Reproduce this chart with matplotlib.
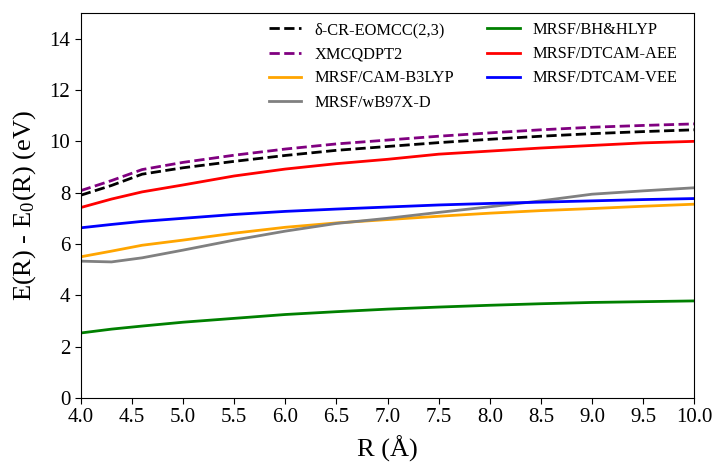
import matplotlib
matplotlib.use("Agg")
import matplotlib.pyplot as plt

R = [4.0, 4.3, 4.6, 5.0, 5.5, 6.0, 6.5, 7.0, 7.5, 8.0, 8.5, 9.0, 9.5, 10.0]
cr_eomcc = [7.9, 8.28, 8.72, 8.97, 9.22, 9.45, 9.65, 9.8, 9.95, 10.08, 10.2, 10.3, 10.38, 10.45]
xmcqdpt2 = [8.08, 8.47, 8.9, 9.18, 9.46, 9.7, 9.9, 10.05, 10.2, 10.33, 10.45, 10.55, 10.62, 10.68]
cam_b3lyp = [5.5, 5.72, 5.95, 6.15, 6.42, 6.65, 6.82, 6.95, 7.08, 7.2, 7.3, 7.38, 7.47, 7.55]
wb97xd = [5.33, 5.3, 5.46, 5.76, 6.15, 6.5, 6.8, 7.0, 7.23, 7.45, 7.68, 7.94, 8.07, 8.19]
bhhlyp = [2.53, 2.68, 2.8, 2.95, 3.1, 3.25, 3.36, 3.46, 3.54, 3.61, 3.67, 3.72, 3.75, 3.78]
dtcam_aee = [7.42, 7.75, 8.03, 8.3, 8.65, 8.92, 9.13, 9.3, 9.5, 9.62, 9.74, 9.84, 9.94, 10.0]
dtcam_vee = [6.63, 6.76, 6.88, 7.0, 7.15, 7.27, 7.36, 7.44, 7.52, 7.58, 7.63, 7.68, 7.73, 7.77]

xticks = [4.0, 4.5, 5.0, 5.5, 6.0, 6.5, 7.0, 7.5, 8.0, 8.5, 9.0, 9.5, 10.0]
yticks = [0, 2, 4, 6, 8, 10, 12, 14]

plt.rcParams['font.family'] = ['Liberation Serif', 'DejaVu Serif']
plt.rcParams['mathtext.fontset'] = 'stix'

fig = plt.figure(figsize=(7.15, 4.67), dpi=100)
ax = fig.add_axes([0.113, 0.148, 0.858, 0.824])

lw = 2
ax.plot(R, cr_eomcc, '--', color='black', lw=lw, label='δ-CR-EOMCC(2,3)')
ax.plot(R, xmcqdpt2, '--', color='purple', lw=lw, label='XMCQDPT2')
ax.plot(R, cam_b3lyp, '-', color='orange', lw=lw, label='MRSF/CAM-B3LYP')
ax.plot(R, wb97xd, '-', color='gray', lw=lw, label='MRSF/wB97X-D')
ax.plot(R, bhhlyp, '-', color='green', lw=lw, label='MRSF/BH&HLYP')
ax.plot(R, dtcam_aee, '-', color='red', lw=lw, label='MRSF/DTCAM-AEE')
ax.plot(R, dtcam_vee, '-', color='blue', lw=lw, label='MRSF/DTCAM-VEE')

ax.set_xlim(4.0, 10.0)
ax.set_ylim(0, 15)
ax.set_xticks(xticks)
ax.set_xticklabels([f'{t:.1f}' for t in xticks])
ax.set_yticks(yticks)
ax.tick_params(labelsize=15, direction='out', length=4)
ax.set_xlabel('R (Å)', fontsize=19, labelpad=6)
ax.set_ylabel(r'E(R) - E$_\mathregular{0}$(R) (eV)', fontsize=19, labelpad=8)

ax.legend(ncol=2, loc='upper right', frameon=False, fontsize=11.8,
          columnspacing=2.0, handlelength=2.0, labelspacing=0.5,
          bbox_to_anchor=(0.997, 1.015))

fig.savefig('out.png', dpi=100)
